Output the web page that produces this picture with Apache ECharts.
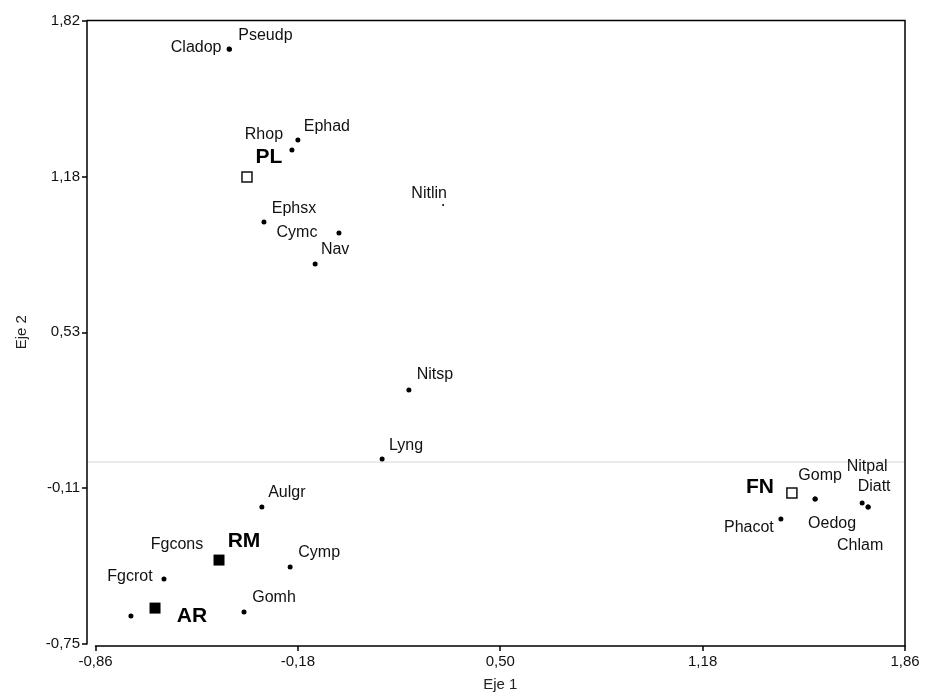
<!DOCTYPE html>
<html>
<head>
<meta charset="utf-8">
<script src="https://cdn.jsdelivr.net/npm/echarts@6/dist/echarts.min.js"></script>
<style>
  html, body { margin: 0; padding: 0; background: #fff; }
  #chart { width: 925px; height: 697px; }
</style>
</head>
<body>
<div id="chart"></div>
<script>
// Biplot: species scores (dots) and site groups (squares) on the first two axes
const speciesNames = ['Cladop', 'Pseudp', 'Ephad', 'Rhop', 'Ephsx', 'Cymc', 'Nav', 'Nitlin',
  'Nitsp', 'Lyng', 'Aulgr', 'Fgcons', 'Fgcrot', 'Cymp', 'Gomh', '',
  'Gomp', 'Oedog', 'Phacot', 'Nitpal', 'Diatt', 'Chlam'];
const speciesX = [-0.411, -0.410, -0.180, -0.200, -0.294, -0.042, -0.122, 0.308,
  0.193, 0.103, -0.301, -0.445, -0.630, -0.206, -0.361, -0.741,
  1.558, 1.558, 1.443, 1.716, 1.736, 1.736];
const speciesY = [1.703, 1.702, 1.327, 1.286, 0.989, 0.944, 0.816, 1.060,
  0.297, 0.013, -0.185, -0.404, -0.482, -0.433, -0.618, -0.635,
  -0.152, -0.152, -0.235, -0.169, -0.185, -0.185];

// Site groups drawn as open squares
const openGroupNames = ['PL', 'FN'];
const openGroupX = [-0.351, 1.480];
const openGroupY = [1.175, -0.128];

// Site groups drawn as filled squares
const filledGroupNames = ['RM', 'AR'];
const filledGroupX = [-0.445, -0.660];
const filledGroupY = [-0.404, -0.602];

// Axis ranges and tick labels
const xMin = -0.86, xMax = 1.86, xStep = 0.68;
const yMin = -0.75, yMax = 1.82, yStep = 0.6425;
const xTickLabels = ['-0,86', '-0,18', '0,50', '1,18', '1,86'];
const yTickLabels = ['-0,75', '-0,11', '0,53', '1,18', '1,82'];

// Label placement (pixel offsets from each mark)
const labelOffsets = {
  Cladop: [-33, -1], Pseudp: [36, -14], Ephad: [29, -14], Rhop: [-28, -15],
  Ephsx: [30, -14], Cymc: [-42, 0], Nav: [20, -14], Nitlin: [-14, -11],
  Nitsp: [26, -15], Lyng: [24, -13], Aulgr: [25, -14], Fgcons: [-42, -15],
  Fgcrot: [-34, -2], Cymp: [29, -14], Gomh: [30, -14],
  Gomp: [5, -23], Oedog: [17, 25], Phacot: [-32, 9], Nitpal: [5, -36],
  Diatt: [6, -20], Chlam: [-8, 39],
  PL: [22, -20], FN: [-32, -6], RM: [25, -19], AR: [37, 8]
};

const FONT = '"Liberation Sans", Arial, sans-serif';

function items(names, xs, ys) {
  return names.map((n, i) => ({
    name: n,
    value: [xs[i], ys[i]],
    label: { offset: labelOffsets[n] || [0, 0] }
  }));
}

const speciesLabel = {
  show: true, position: 'inside', formatter: '{b}',
  fontFamily: FONT, fontSize: 16, color: '#111'
};
const groupLabel = {
  show: true, position: 'inside', formatter: '{b}',
  fontFamily: FONT, fontSize: 21, fontWeight: 'bold', color: '#000'
};

const chart = echarts.init(document.getElementById('chart'), null, { renderer: 'canvas' });

const axisLineStyle = { color: '#000', width: 1.5 };

chart.setOption({
  animation: false,
  backgroundColor: '#fff',
  grid: { left: 95.5, right: 20, top: 20.5, bottom: 53 },
  xAxis: {
    type: 'value', min: xMin, max: xMax, interval: xStep,
    offset: 2,
    axisLine: { show: true, onZero: false, lineStyle: axisLineStyle },
    axisTick: { show: true, length: 5, lineStyle: axisLineStyle },
    splitLine: { show: false },
    axisLabel: {
      fontFamily: FONT, fontSize: 15, color: '#111', margin: 8,
      formatter: v => xTickLabels[Math.round((v - xMin) / xStep)]
    },
    name: 'Eje 1', nameLocation: 'middle', nameGap: 31,
    nameTextStyle: { fontFamily: FONT, fontSize: 15, color: '#222' }
  },
  yAxis: {
    type: 'value', min: yMin, max: yMax, interval: yStep,
    offset: 8.5,
    axisLine: { show: true, onZero: false, lineStyle: axisLineStyle },
    axisTick: { show: true, length: 5, lineStyle: axisLineStyle },
    splitLine: { show: false },
    axisLabel: {
      fontFamily: FONT, fontSize: 15, color: '#111', margin: 7,
      formatter: v => yTickLabels[Math.round((v - yMin) / yStep)]
    },
    name: 'Eje 2', nameLocation: 'middle', nameGap: 58,
    nameTextStyle: { fontFamily: FONT, fontSize: 15, color: '#222' }
  },
  series: [
    {
      type: 'scatter', name: 'species',
      symbol: 'circle', symbolSize: 5,
      itemStyle: { color: '#000', opacity: 1 },
      label: speciesLabel,
      emphasis: { disabled: true },
      data: items(speciesNames, speciesX, speciesY).map(d =>
        d.name === 'Nitlin' ? Object.assign(d, { symbolSize: 2 }) : d)
    },
    {
      type: 'scatter', name: 'open groups',
      symbol: 'rect', symbolSize: 10,
      itemStyle: { color: '#fff', borderColor: '#111', borderWidth: 1.5, opacity: 1 },
      label: groupLabel,
      emphasis: { disabled: true },
      data: items(openGroupNames, openGroupX, openGroupY)
    },
    {
      type: 'scatter', name: 'filled groups',
      symbol: 'rect', symbolSize: 11,
      itemStyle: { color: '#000', opacity: 1 },
      label: groupLabel,
      emphasis: { disabled: true },
      data: items(filledGroupNames, filledGroupX, filledGroupY)
    }
  ]
});

// Frame (top and right edges) and the zero reference line, positioned through the axes' scales
const topRight = chart.convertToPixel({ gridIndex: 0 }, [xMax, yMax]);
const bottomLeft = chart.convertToPixel({ gridIndex: 0 }, [xMin, yMin]);
const zeroY = chart.convertToPixel({ yAxisIndex: 0 }, 0);
const axisX = bottomLeft[0] - 8.5;
const axisBottom = bottomLeft[1] + 2;

chart.setOption({
  graphic: [
    {
      type: 'line', z: 0, silent: true,
      shape: { x1: axisX, y1: zeroY, x2: topRight[0], y2: zeroY },
      style: { stroke: '#d4d4d4', lineWidth: 1 }
    },
    {
      type: 'polyline', z: 10, silent: true,
      shape: { points: [[axisX, topRight[1]], [topRight[0], topRight[1]], [topRight[0], axisBottom]] },
      style: { stroke: '#000', lineWidth: 1.5, fill: null }
    }
  ]
});
</script>
</body>
</html>
